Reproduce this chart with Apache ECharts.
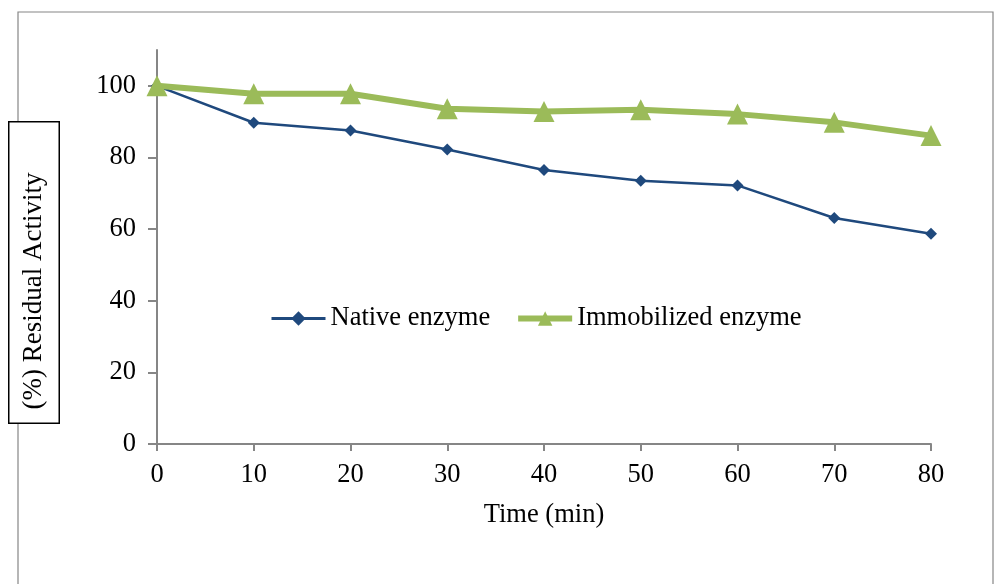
<!DOCTYPE html>
<html>
<head>
<meta charset="utf-8">
<script src="https://cdn.jsdelivr.net/npm/echarts@6/dist/echarts.min.js"></script>
<style>
  html, body { margin: 0; padding: 0; background: #fff; }
  #chart { width: 995px; height: 584px; }
</style>
</head>
<body>
<div id="chart"></div>
<script>
// 时间点 (min)
const timePoints = [0, 10, 20, 30, 40, 50, 60, 70, 80];
// 残余活性 %
const nativeEnzyme = [100, 89.7, 87.5, 82.2, 76.5, 73.5, 72.2, 63.1, 58.7];
const immobilizedEnzyme = [100, 97.8, 97.8, 93.6, 92.8, 93.3, 92.1, 89.8, 86.1];
const yTicks = [0, 20, 40, 60, 80, 100];

const font = '"Liberation Serif", "Times New Roman", serif';
const fontSize = 26.5;
const axisGray = '#868686';
const blue = '#1F497D';
const green = '#9BBB59';

const chart = echarts.init(document.getElementById('chart'));

const option = {
  backgroundColor: '#fff',
  animation: false,
  textStyle: { fontFamily: font, color: '#000' },
  graphic: [
    {
      type: 'rect',
      shape: { x: 18, y: 12, width: 975, height: 620 },
      style: { fill: 'none', stroke: axisGray, lineWidth: 1.2 },
      silent: true
    },
    {
      // y轴标题框
      type: 'text',
      x: 34,
      y: 272.5,
      rotation: Math.PI / 2,
      style: {
        text: '(%) Residual Activity',
        font: '27px ' + font,
        fill: '#000',
        align: 'center',
        verticalAlign: 'middle',
        backgroundColor: '#fff',
        borderColor: '#000',
        borderWidth: 1.5,
        padding: [11, 50, 11, 13]
      }
    }
  ],
  grid: { left: 157, right: 64, top: 50, bottom: 140 },
  legend: {
    left: 265,
    top: 300,
    itemWidth: 54,
    itemHeight: 18,
    itemGap: 25,
    textStyle: { fontFamily: font, fontSize: fontSize, color: '#000' },
    data: [
      { name: 'Native enzyme', lineStyle: { width: 3, color: blue } },
      { name: 'Immobilized enzyme', lineStyle: { width: 6, color: green } }
    ]
  },
  xAxis: {
    type: 'value',
    min: 0,
    max: 80,
    interval: 10,
    name: 'Time (min)',
    nameLocation: 'middle',
    nameGap: 58,
    nameTextStyle: { fontFamily: font, fontSize: fontSize, color: '#000' },
    axisLine: { onZero: false, lineStyle: { color: axisGray, width: 2 } },
    axisTick: { length: 7, lineStyle: { color: axisGray, width: 2 } },
    axisLabel: { margin: 18, fontFamily: font, fontSize: fontSize, color: '#000' },
    splitLine: { show: false }
  },
  yAxis: {
    type: 'value',
    min: 0,
    max: 110,
    interval: 20,
    axisLine: { show: true, lineStyle: { color: axisGray, width: 2 } },
    axisTick: {
      show: true,
      length: 9,
      customValues: yTicks,
      lineStyle: { color: axisGray, width: 2 }
    },
    axisLabel: {
      margin: 21,
      customValues: yTicks,
      fontFamily: font,
      fontSize: fontSize,
      color: '#000'
    },
    splitLine: { show: false }
  },
  series: [
    {
      name: 'Native enzyme',
      type: 'line',
      data: timePoints.map((t, i) => [t, nativeEnzyme[i]]),
      symbol: 'diamond',
      symbolSize: 12,
      color: blue,
      lineStyle: { color: blue, width: 2.5 },
      itemStyle: { color: blue },
      z: 2
    },
    {
      name: 'Immobilized enzyme',
      type: 'line',
      data: timePoints.map((t, i) => [t, immobilizedEnzyme[i]]),
      symbol: 'triangle',
      symbolSize: 21,
      color: green,
      lineStyle: { color: green, width: 6 },
      itemStyle: { color: green },
      z: 3
    }
  ]
};

chart.setOption(option);
</script>
</body>
</html>
